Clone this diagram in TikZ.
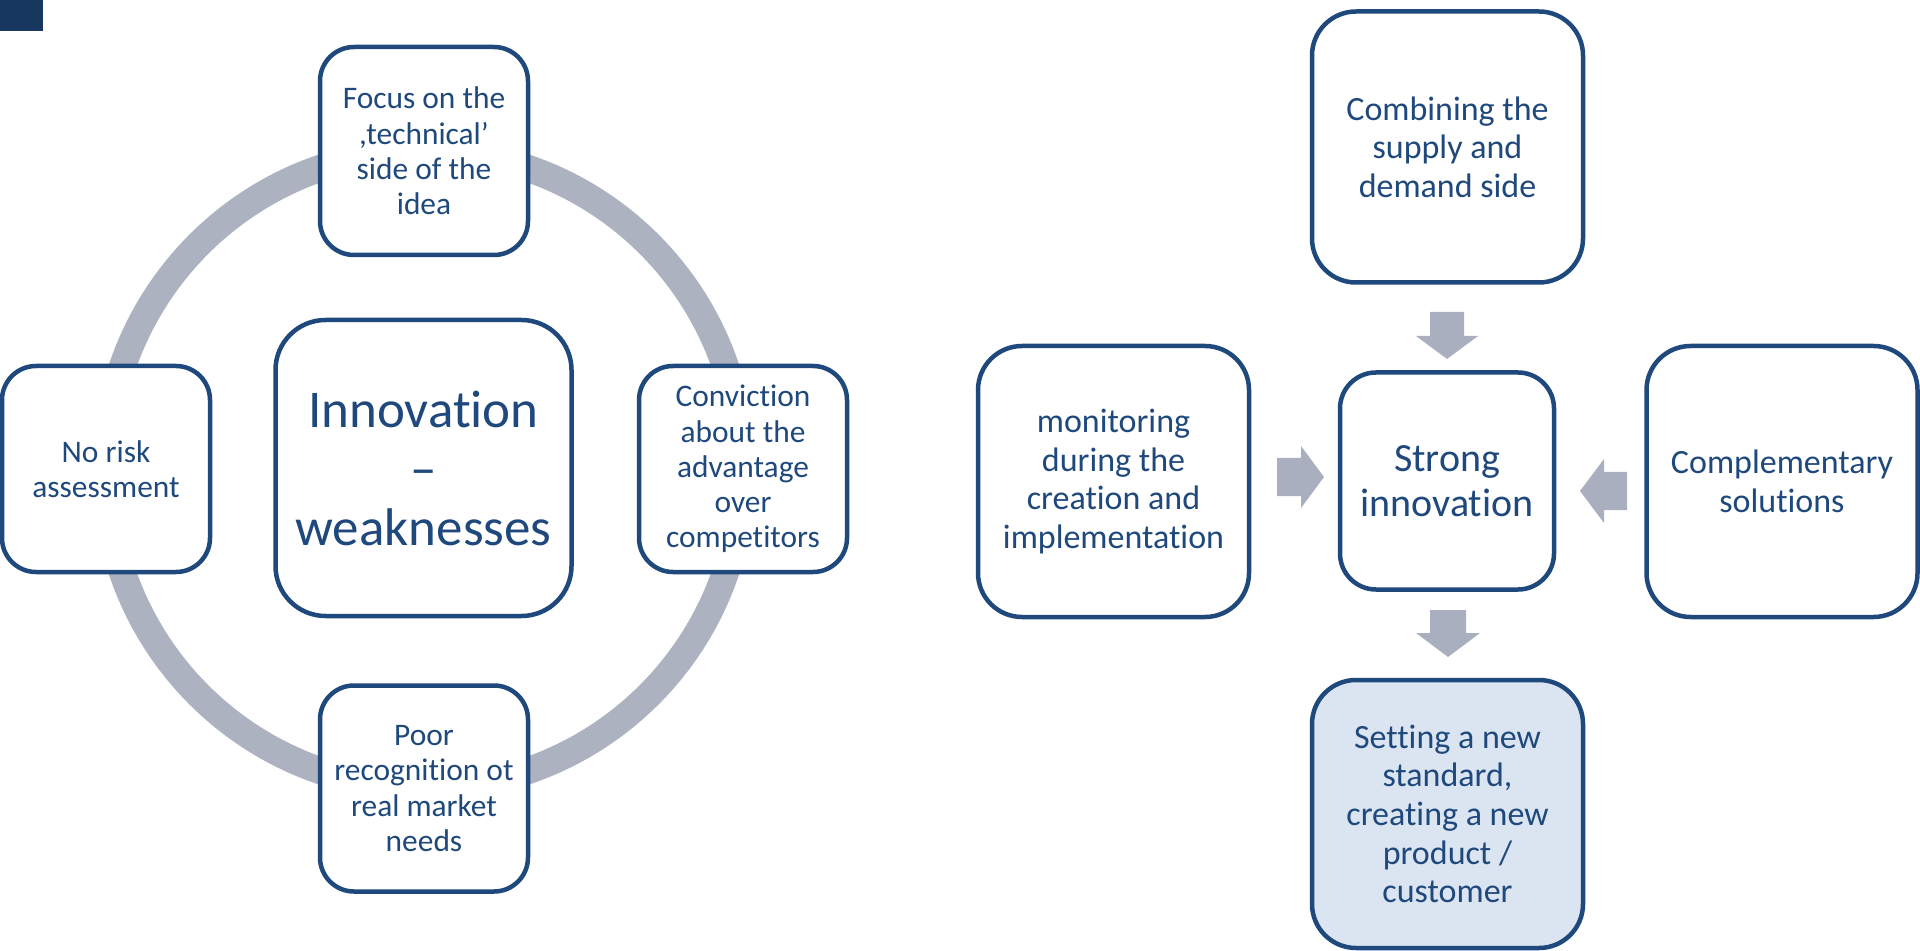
\documentclass[tikz,border=0pt]{standalone}
\usepackage{fontspec}
\setmainfont{Carlito}[Ligatures=CommonOff]
\usetikzlibrary{calc}
\definecolor{dkblue}{HTML}{1F497D}
\definecolor{ringgray}{HTML}{ADB2C0}
\definecolor{arrgray}{HTML}{A9AFBF}
\definecolor{lightfill}{HTML}{DBE5F1}
\definecolor{cornersq}{HTML}{17375E}
\begin{document}
\begin{tikzpicture}[x=0.5pt,y=-0.5pt,
  box/.style={draw=dkblue, line width=2.25pt, fill=white, text=dkblue, align=center, inner sep=0pt},
  smallbox/.style={box, minimum width=104pt, minimum height=104pt, rounded corners=17pt,
     font=\fontsize{15.7pt}{17.6pt}\selectfont},
  bigbox/.style={box, minimum width=135.5pt, minimum height=135.5pt, rounded corners=22pt,
     font=\fontsize{17pt}{19.3pt}\selectfont},
  blockarrow/.style={fill=arrgray}]
\useasboundingbox (0,0) rectangle (1920,951);
\fill[cornersq] (0,0) rectangle (43,31);
% ring
\coordinate (ringc) at (424,469.5);
\draw[ringgray, line width=13.5pt] (ringc) circle[radius=159.25pt];
% left cluster
\node[box, minimum width=148pt, minimum height=148pt, rounded corners=25pt,
      font=\fontsize{26.5pt}{29.5pt}\selectfont] (innov) at (423.5,468) {Innovation\\--\\weaknesses};
\node[smallbox] (focus) at (424,151) {Focus on the\\,technical’\\side of the\\idea};
\node[smallbox, minimum height=103pt] (norisk) at (106,469) {No risk\\assessment};
\node[smallbox, minimum height=103pt] (conv) at (743,469) {Conviction\\about the\\advantage\\over\\competitors};
\node[smallbox, minimum height=103pt] (poor) at (424,788.5) {Poor\\recognition ot\\real market\\needs};
% right cluster
\node[bigbox] (comb) at (1447.5,147) {Combining the\\supply and\\demand side};
\node[bigbox, minimum width=107pt, minimum height=108.5pt, rounded corners=18pt,
      font=\fontsize{20pt}{22.5pt}\selectfont] (strong) at (1447,481) {Strong\\innovation};
\node[bigbox] (monit) at (1113.5,481.5) {monitoring\\during the\\creation and\\implementation};
\node[bigbox] (compl) at (1782,481.5) {Complementary\\solutions};
\node[bigbox, fill=lightfill, minimum height=134pt] (sett) at (1447.5,814) {Setting a new\\standard,\\creating a new\\product /\\customer};
% block arrows
\fill[blockarrow] (1430,312) -- (1464,312) -- (1464,336) -- (1478,336) -- (1447,359) -- (1416,336) -- (1430,336) -- cycle;
\fill[blockarrow] (1430,610) -- (1466,610) -- (1466,633) -- (1480,633) -- (1448,657) -- (1416,633) -- (1430,633) -- cycle;
\fill[blockarrow] (1277,458) -- (1301,458) -- (1301,446) -- (1324,477) -- (1301,508) -- (1301,496) -- (1277,496) -- cycle;
\fill[blockarrow] (1627,472) -- (1604,472) -- (1604,459) -- (1580,491) -- (1604,523) -- (1604,510) -- (1627,510) -- cycle;
\end{tikzpicture}
\end{document}
